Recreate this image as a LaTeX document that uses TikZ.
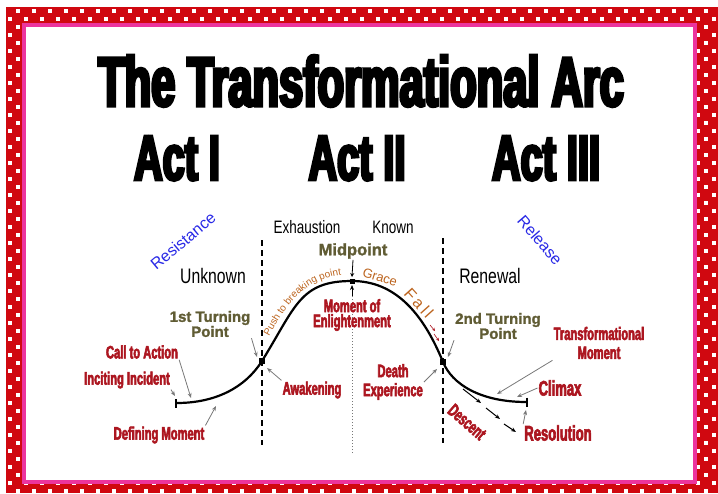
\documentclass[tikz,border=0pt]{standalone}
\usepackage{fontspec}
\setmainfont{Liberation Sans}
\newfontfamily\titlefont[FakeStretch=0.62,FakeBold=4.5]{Liberation Sans Bold}
\newfontfamily\impactfont[FakeStretch=0.62,FakeBold=3]{Liberation Sans Bold}
\newfontfamily\narrowfont[FakeStretch=0.75]{Liberation Sans}
\newfontfamily\olivefont[FakeBold=1.5]{Liberation Sans Bold}
\newfontfamily\fallfont[LetterSpace=18]{Liberation Sans}
\usetikzlibrary{arrows.meta,decorations.text}

\definecolor{checkred}{RGB}{208,8,16}
\definecolor{framepink}{RGB}{236,52,158}
\definecolor{labelred}{RGB}{172,22,32}
\definecolor{turnolive}{RGB}{96,92,52}
\definecolor{archbrown}{RGB}{188,100,30}
\definecolor{sideblue}{RGB}{40,40,230}
\definecolor{pointergray}{RGB}{120,120,120}

\newcommand\checkcell[2]{%
  \pgfmathtruncatemacro\cellodd{mod(#1+#2,2)}%
  \ifnum\cellodd=1 \fill[white] ({7.75+8*#1},{8.75+8*#2}) rectangle +(4.5,4.5);\fi}
\newcommand\pushfont{\fontsize{10}{10}\selectfont}

\begin{document}
\begin{tikzpicture}[
  x=1pt, y=-1pt,
  every node/.style = {inner sep=1pt},
  headline/.style = {font=\titlefont\fontsize{70}{70}\selectfont, anchor=base},
  act/.style = {font=\titlefont\fontsize{64}{64}\selectfont, anchor=base},
  beat/.style = {font=\impactfont\fontsize{#1}{19}\selectfont, text=labelred, align=center},
  beat/.default = 18,
  turn/.style = {font=\olivefont\fontsize{#1}{15}\selectfont, text=turnolive, align=center},
  turn/.default = 15,
  state/.style = {font=\narrowfont\fontsize{#1}{#1}\selectfont},
  state/.default = 18,
  side/.style = {font=\fontsize{16}{16}\selectfont, text=sideblue},
  pointer/.style = {-{Stealth[length=5pt,width=4pt]}, pointergray, line width=0.8pt},
  divider/.style = {dash pattern=on 6pt off 4pt, line width=1.5pt},
  archline/.style = {line width=2.2pt, {Bar[width=9pt]}-{Bar[width=9pt]}},
  knot/.style = {fill, minimum size=6pt, inner sep=0pt},
  slide/.style = {-{Stealth[length=5pt,width=4pt]}, line width=1pt}
]
\useasboundingbox (0,0) rectangle (718,493);

\begin{scope}[even odd rule]
  \clip (6,7) rectangle (718,493) (22,23) rectangle (697,482);
  \fill[checkred] (6,7) rectangle (718,493);
  \foreach \i in {0,...,88}
    \foreach \j in {0,1,59,60}
      {\checkcell{\i}{\j}}
  \foreach \j in {2,...,58}
    \foreach \i in {0,1,86,87,88}
      {\checkcell{\i}{\j}}
\end{scope}
\draw[framepink, line width=4pt] (24,25) rectangle (695,482);

\node[headline] (title) at (361,106) {The Transformational Arc};
\node[act] (act1) at (177,180) {Act I};
\node[act] (act2) at (357,180) {Act II};
\node[act] (act3) at (546,180) {Act III};

\coordinate (start) at (175,403);
\coordinate (tp1) at (262,361);
\coordinate (mid) at (352,281);
\coordinate (tp2) at (443,362);
\coordinate (end) at (528,402);

\coordinate (div1top) at (262,240);
\coordinate (div1bot) at (262,445);
\coordinate (div2top) at (443,238);
\coordinate (div2bot) at (443,443);
\coordinate (midfoot) at (352,453);

\draw[divider] (div1top) -- (div1bot);
\draw[divider] (div2top) -- (div2bot);
\draw[pointergray, line width=1pt, dash pattern=on 1pt off 2pt] (midfoot) -- (352,292);
\draw[-{Stealth[length=5pt,width=4pt]}, line width=0.8pt] (352,296) -- (352,285);

\draw[archline] (start) .. controls (215,403) and (245,388) .. (tp1)
  .. controls (296,306) and (300,281) .. (mid)
  .. controls (395,281) and (423,313) .. (tp2)
  .. controls (452,384) and (480,402) .. (end);
\node[knot] at (tp1) {};
\node[knot, minimum size=5pt] at (mid) {};
\node[knot] at (tp2) {};

\node[side, rotate=40] (resist) at (183,241) {Resistance};
\node[side, rotate=-49] (release) at (540,240) {Release};

\node[state=21] (unknown) at (213,276) {Unknown};
\node[state] (exhaust) at (307,227) {Exhaustion};
\node[state] (known) at (393,227) {Known};
\node[state=21] (renewal) at (490,276) {Renewal};

\node[turn=16.5] (midlbl) at (353,251) {Midpoint};
\node[turn] (turn1) at (210,324) {1st Turning\\Point};
\node[turn] (turn2) at (498,326) {2nd Turning\\Point};

\path[decorate, decoration={text along path, text color=archbrown,
  text={|\pushfont|Push to breaking point}, text align=center}]
  (264,346) .. controls (287,302) and (306,275) .. (352,274);
\node[text=archbrown, font=\fontsize{13}{13}\selectfont, rotate=-17] (grace) at (380,277) {Grace};
\node[text=archbrown, font=\fallfont\fontsize{16}{16}\selectfont, rotate=-48] (fall) at (419,303) {Fall};
\draw[labelred, -{Stealth[length=3pt,width=3pt]}, line width=0.6pt] (430,325) -- (435,331);
\draw[labelred, -{Stealth[length=3pt,width=3pt]}, line width=0.6pt] (434,334) -- (439,341);

\node[beat] (call) at (142,352) {Call to Action};
\node[beat] (incite) at (127,380) {Inciting Incident};
\node[beat] (defining) at (159,435) {Defining Moment};
\node[beat] (awaken) at (312,390) {Awakening};
\node[beat] (death) at (393,382) {Death\\Experience};
\node[beat, font=\impactfont\fontsize{18}{15}\selectfont] (enlight) at (352,315) {Moment of\\Enlightenment};
\node[beat] (transf) at (599,343) {Transformational\\Moment};
\node[beat=21] (climax) at (560,388) {Climax};
\node[beat=21] (resol) at (558,433) {Resolution};
\node[beat, rotate=-41] (descent) at (467,422) {Descent};

\draw[pointer] (call.south east) -- (191,398);
\draw[pointer] (incite.south east) -- (175,396);
\draw[pointer] (defining.north east) -- (216,406);
\draw[pointer] (turn1.south east) -- (257,357);
\draw[pointer] (awaken.north west) -- (267,368);
\draw[pointer] (death.east) -- (437,369);
\draw[pointer] (turn2.south west) -- (448,357);
\draw[pointer] (transf.south west) -- (497,394);
\draw[pointer] (climax.west) -- (517,397);
\draw[pointer] (resol.north west) -- (526,410);
\draw[-{Stealth[length=4pt,width=4pt]}, line width=0.8pt] (midlbl.south) -- (352,277);

\draw[slide] (463,389) -- (481,403);
\draw[slide] (486,408) -- (500,419);
\draw[slide] (504,424) -- (516,432);
\end{tikzpicture}
\end{document}
